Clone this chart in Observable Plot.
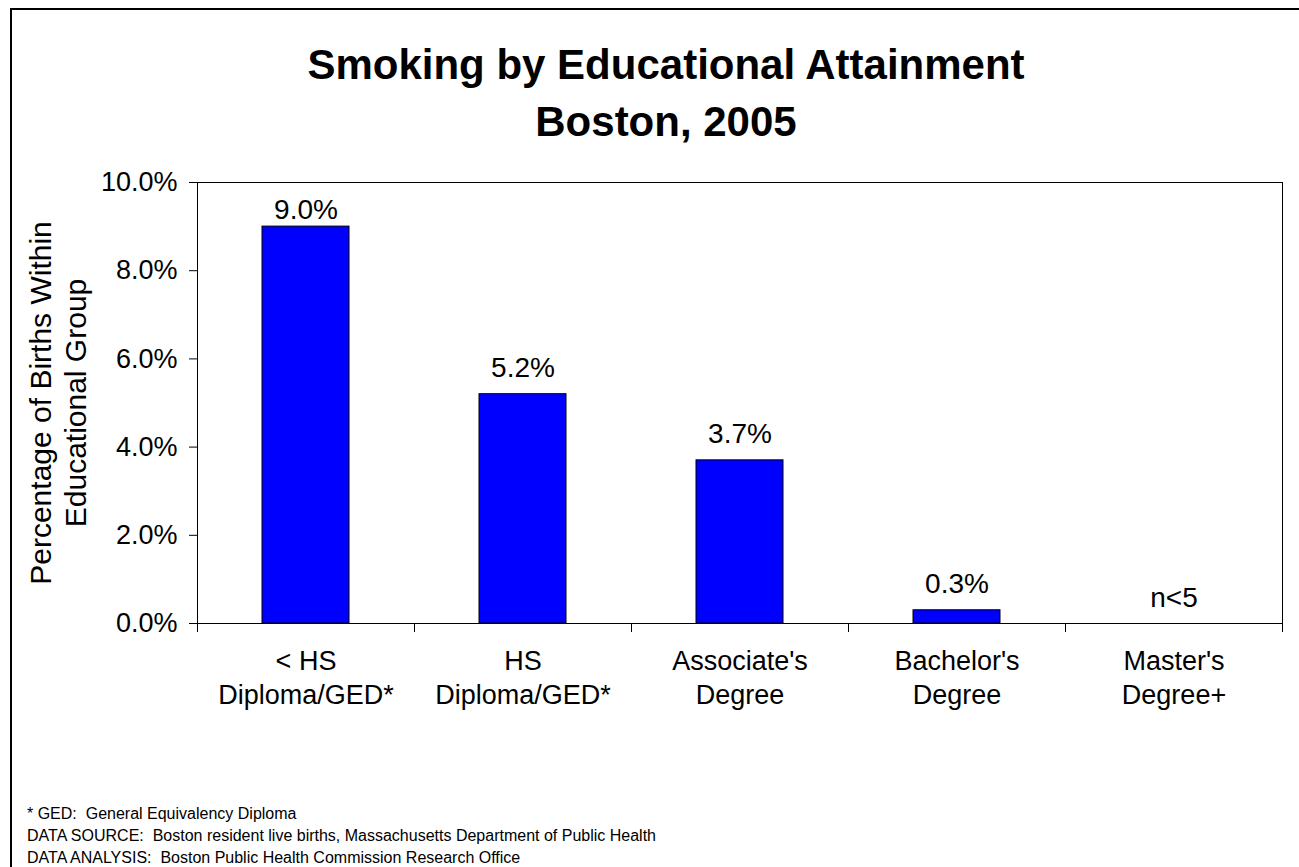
<!DOCTYPE html>
<html><head><meta charset="utf-8">
<script src="https://cdn.jsdelivr.net/npm/d3@7"></script>
<script src="https://cdn.jsdelivr.net/npm/@observablehq/plot@0.6"></script>
<style>
body{margin:0;background:#fff;}
#page{position:relative;width:1299px;height:867px;overflow:hidden;font-family:"Liberation Sans",Arial,sans-serif;color:#000;background:#fff;}
#border{position:absolute;left:10px;top:8px;right:-10px;bottom:-10px;border:2px solid #000;}
#title{position:absolute;left:666px;top:36px;transform:translateX(-50%);font-size:42px;font-weight:bold;line-height:57px;text-align:center;white-space:nowrap;}
#chart{position:absolute;left:0;top:150px;}
#notes{position:absolute;left:27px;top:803px;font-size:16px;line-height:22px;white-space:nowrap;}
</style></head><body>
<div id="page">
<div id="border"></div>
<div id="title">Smoking by Educational Attainment<br>Boston, 2005</div>
<div id="chart"></div>
<div id="notes">* GED:&nbsp; General Equivalency Diploma<br>DATA SOURCE:&nbsp; Boston resident live births, Massachusetts Department of Public Health<br>DATA ANALYSIS:&nbsp; Boston Public Health Commission Research Office</div>
</div>
<script>
const categories = ["< HS\nDiploma/GED*", "HS\nDiploma/GED*", "Associate's\nDegree", "Bachelor's\nDegree", "Master's\nDegree+"];
const values = [9.0, 5.2, 3.7, 0.3, null];
const valueLabels = ["9.0%", "5.2%", "3.7%", "0.3%", "n<5"];
const yTicks = [0, 2, 4, 6, 8, 10];
const yLabel = "Percentage of Births Within\nEducational Group";

const W = 1299, H = 590, mL = 197, mR = 17, mT = 32, mB = 117;
const yMax = 10;
const ppu = (H - mT - mB) / yMax;
const step = (W - mL - mR) / categories.length;
const data = categories.map((c, i) => ({cat: c, value: values[i], label: valueLabels[i]}));
const labelY = d => Math.min((d.value ?? 0) + 17 / ppu, yMax - 36 / ppu);
const fmt = d => d.toFixed(1) + "%";

const yAxisMark = Plot.axisY
  ? Plot.axisY({ticks: yTicks, tickFormat: fmt, tickSize: 8, tickPadding: 12, fontSize: 27, label: null})
  : null;

const chart = Plot.plot({
  width: W, height: H,
  marginLeft: mL, marginRight: mR, marginTop: mT, marginBottom: mB,
  style: {fontFamily: "'Liberation Sans', Arial, sans-serif", fontSize: "27px", color: "#000", background: "transparent", overflow: "visible"},
  x: {domain: categories, paddingInner: 0.6, paddingOuter: 0.3, axis: null},
  y: {domain: [0, yMax], ticks: yTicks, tickFormat: fmt, tickSize: 8, tickPadding: 12, label: null},
  marks: [
    Plot.barY(data.filter(d => d.value != null), {x: "cat", y: "value", fill: "#0000FF", stroke: "#000", strokeWidth: 1}),
    Plot.frame({stroke: "#000"}),
    yAxisMark,
    Plot.ruleX(categories, {x: d => d, dx: -step / 2, y1: 0, y2: -9 / ppu, stroke: "#000"}),
    Plot.ruleX(categories.slice(-1), {x: d => d, dx: step / 2, y1: 0, y2: -9 / ppu, stroke: "#000"}),
    Plot.text(data, {x: "cat", y: labelY, text: "label", lineAnchor: "bottom", fontSize: 28}),
    Plot.text(categories, {x: d => d, frameAnchor: "bottom", dy: 22, lineAnchor: "top", lineHeight: 1.26, text: d => d, fontSize: 27}),
    Plot.text([yLabel], {frameAnchor: "left", textAnchor: "middle", dx: -140, rotate: -90, lineHeight: 1.17, text: d => d, fontSize: 30})
  ]
});
document.getElementById("chart").appendChild(chart);
</script>
</body></html>
